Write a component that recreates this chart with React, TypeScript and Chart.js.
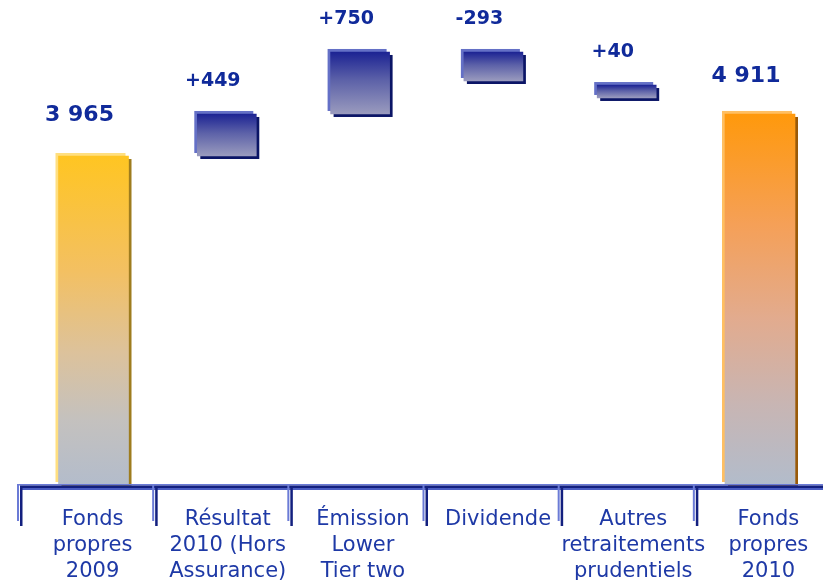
import React, { useEffect, useRef } from "react";
import { Chart, registerables } from "chart.js";

Chart.register(...registerables);

// ---- data ----
const categories: string[][] = [
  ["Fonds", "propres", "2009"],
  ["Résultat", "2010 (Hors", "Assurance)"],
  ["Émission", "Lower", "Tier two"],
  ["Dividende"],
  ["Autres", "retraitements", "prudentiels"],
  ["Fonds", "propres", "2010"],
];
const valueLabels: string[] = ["3 965", "+449", "+750", "-293", "+40", "4 911"];
// drawn extent of each bar (bottom, top)
const barLow: number[] = [0, 4070, 4590, 4998, 4788, 0];
const barHigh: number[] = [4070, 4590, 5357, 5357, 4948, 4590];
const barKind: string[] = ["total2009", "delta", "delta", "delta", "delta", "total2010"];

// ---- styles ----
type Style = {
  stops: [number, string][];
  light: string;
  dark: string;
  thickness: number;
  fontSize: number;
  labelGap: number;
};
const styles: Record<string, Style> = {
  total2009: {
    stops: [
      [0, "#FFC522"],
      [0.35, "#F3C062"],
      [0.6, "#DCC29C"],
      [0.8, "#C4C1BE"],
      [1, "#B3BCCB"],
    ],
    light: "#FFDF80",
    dark: "#9E7C1E",
    thickness: 70,
    fontSize: 22,
    labelGap: 41,
  },
  total2010: {
    stops: [
      [0, "#FF990C"],
      [0.3, "#F5A058"],
      [0.55, "#E2AB8E"],
      [0.78, "#C8B5B3"],
      [1, "#B2BCCB"],
    ],
    light: "#FFBF62",
    dark: "#9A5A08",
    thickness: 70,
    fontSize: 22,
    labelGap: 38,
  },
  delta: {
    stops: [
      [0, "#1C2393"],
      [0.45, "#5C61A8"],
      [1, "#9A9BBE"],
    ],
    light: "#6470C6",
    dark: "#0B1566",
    thickness: 59,
    fontSize: 19,
    labelGap: 32.5,
  },
};

const LABEL_BLUE = "#1E39A6";
const VALUE_BLUE = "#102A9A";

const edgePlugin = {
  id: "edges",
  beforeDatasetsDraw(chart: any) {
    const ctx = chart.ctx;
    ctx.save();
    chart.data.datasets.forEach((ds: any, i: number) => {
      const st = styles[ds.kind];
      const meta = chart.getDatasetMeta(i);
      meta.data.forEach((el: any) => {
        const { x, y, base, width } = el.getProps(["x", "y", "base", "width"], true);
        const top = Math.min(y, base);
        const h = Math.abs(base - y);
        const left = x - width / 2;
        ctx.fillStyle = st.dark;
        ctx.fillRect(left + 3, top + 3, width, h);
        ctx.fillStyle = st.light;
        ctx.fillRect(left - 3, top - 3, width, h);
      });
    });
    ctx.restore();
  },
};

const axisPlugin = {
  id: "axisDeco",
  afterDatasetsDraw(chart: any) {
    const ctx = chart.ctx;
    const xs = chart.scales.x;
    const bottom = chart.chartArea.bottom;
    const half = (xs.getPixelForValue(1) - xs.getPixelForValue(0)) / 2;
    const left = xs.getPixelForValue(0) - half;
    const right = chart.width;
    ctx.save();
    ctx.fillStyle = "#6B7BD6";
    ctx.fillRect(left - 3, bottom - 1, right - left + 3, 1.5);
    ctx.fillStyle = "#13207F";
    ctx.fillRect(left, bottom + 0.5, right - left, 2.5);
    ctx.fillStyle = "#4A5CC2";
    ctx.fillRect(left, bottom + 3, right - left, 2);
    for (let i = 0; i <= categories.length; i++) {
      const b = left + i * 2 * half;
      ctx.fillStyle = "#6B7BD6";
      ctx.fillRect(b - 3, bottom - 1, 2, 37);
      ctx.fillStyle = "#13207F";
      ctx.fillRect(b, bottom + 1, 2.5, 40);
    }
    ctx.restore();
  },
};

const valuePlugin = {
  id: "values",
  afterDatasetsDraw(chart: any) {
    const ctx = chart.ctx;
    ctx.save();
    ctx.textAlign = "center";
    ctx.textBaseline = "middle";
    ctx.fillStyle = VALUE_BLUE;
    chart.data.datasets.forEach((ds: any, i: number) => {
      const st = styles[ds.kind];
      const meta = chart.getDatasetMeta(i);
      meta.data.forEach((el: any, j: number) => {
        const idx = ds.data[j].x;
        const { x, y, base } = el.getProps(["x", "y", "base"], true);
        const top = Math.min(y, base);
        ctx.font = `bold ${st.fontSize}px "DejaVu Sans", Verdana, sans-serif`;
        ctx.fillText(valueLabels[idx], x - 14, top - st.labelGap);
      });
    });
    ctx.restore();
  },
};

function buildDatasets() {
  const kinds = ["total2009", "delta", "total2010"];
  return kinds.map((kind) => {
    const st = styles[kind];
    const data = barKind
      .map((k, i) => (k === kind ? { x: i, y: [barLow[i], barHigh[i]] } : null))
      .filter((d) => d !== null);
    return {
      kind,
      data,
      xAxisID: "xb",
      yAxisID: "y",
      grouped: false,
      barThickness: st.thickness,
      borderWidth: 0,
      backgroundColor: (c: any) => {
        const chart = c.chart;
        if (!chart.chartArea || !c.raw) return st.stops[0][1];
        const ys = chart.scales.y;
        const [lo, hi] = c.raw.y;
        const top = ys.getPixelForValue(hi);
        const bot = ys.getPixelForValue(lo);
        const g = chart.ctx.createLinearGradient(0, top, 0, bot);
        st.stops.forEach(([o, col]) => g.addColorStop(o, col));
        return g;
      },
    };
  });
}

export default function App() {
  const ref = useRef<HTMLCanvasElement>(null);
  useEffect(() => {
    if (!ref.current) return;
    const chart = new Chart(ref.current, {
      type: "bar",
      data: {
        labels: categories as any,
        datasets: buildDatasets() as any,
      },
      options: {
        responsive: false,
        animation: false,
        layout: { padding: { left: 20, right: 9, top: 0, bottom: 0 } },
        plugins: {
          legend: { display: false },
          tooltip: { enabled: false },
        },
        scales: {
          x: {
            type: "category",
            position: "bottom",
            offset: true,
            grid: { display: false, drawTicks: false },
            border: { display: false },
            ticks: {
              autoSkip: false,
              maxRotation: 0,
              minRotation: 0,
              padding: 22,
              labelOffset: 5,
              color: LABEL_BLUE,
              font: { family: '"DejaVu Sans", Verdana, sans-serif', size: 21, lineHeight: 1.22 },
            },
            afterFit: (s: any) => {
              s.height = 95;
            },
          },
          xb: {
            type: "linear",
            display: false,
            offset: false,
            min: -0.5514,
            max: 5.5327,
          },
          y: {
            display: false,
            min: 0,
            max: 6000,
          },
        },
      } as any,
      plugins: [edgePlugin, axisPlugin, valuePlugin],
    });
    return () => chart.destroy();
  }, []);

  return (
    <div
      style={{
        position: "fixed",
        left: 0,
        top: 0,
        width: 823,
        height: 580,
        overflow: "hidden",
        background: "#fff",
      }}
    >
      <canvas ref={ref} width={840} height={580} style={{ display: "block" }} />
    </div>
  );
}
